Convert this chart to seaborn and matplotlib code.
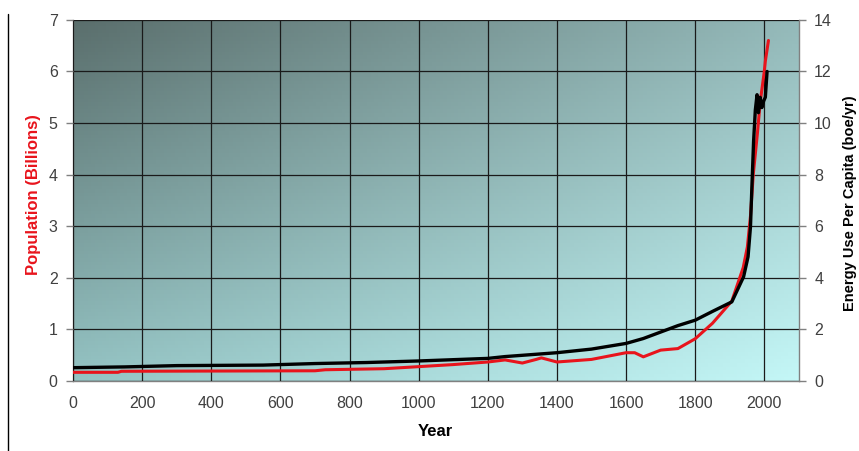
import numpy as np
import pandas as pd
import seaborn as sns
import matplotlib.pyplot as plt
from matplotlib.lines import Line2D

# population (billions)
pop_years = [0, 130, 140, 700, 730, 900, 1000, 1100, 1200, 1250, 1300, 1340, 1355,
             1400, 1500, 1600, 1625, 1650, 1700, 1750, 1800, 1850, 1906, 1939,
             1951, 1960, 1968, 1980, 1988, 2000, 2003, 2012]
pop_vals = [0.17, 0.17, 0.19, 0.20, 0.22, 0.24, 0.28, 0.32, 0.37, 0.41, 0.35, 0.42, 0.45,
            0.37, 0.42, 0.55, 0.55, 0.47, 0.60, 0.63, 0.82, 1.12, 1.55, 2.2,
            2.6, 3.2, 4.0, 4.8, 5.4, 6.0, 6.2, 6.6]

# energy use per capita (boe/yr)
energy_years = [0, 150, 300, 550, 700, 850, 1000, 1200, 1250, 1400, 1500, 1600, 1650,
                1700, 1750, 1800, 1850, 1906, 1940, 1953, 1960, 1964, 1969, 1974,
                1979, 1983, 1988, 1993, 1998, 2003, 2008]
energy_vals = [0.52, 0.55, 0.60, 0.62, 0.68, 0.72, 0.78, 0.88, 0.95, 1.10, 1.24, 1.46, 1.65,
               1.90, 2.15, 2.36, 2.70, 3.07, 4.04, 4.82, 5.98, 7.5, 9.3, 10.5,
               11.1, 10.4, 11.0, 10.6, 10.85, 11.0, 12.0]

x_ticks = list(range(0, 2001, 200))
left_ticks = list(range(0, 8))
right_ticks = list(range(0, 15, 2))

pop = pd.DataFrame({"Year": pop_years, "Population": pop_vals})
energy = pd.DataFrame({"Year": energy_years, "Energy": energy_vals})

sns.set_style("white")
plt.rcParams["font.family"] = ["Liberation Sans", "DejaVu Sans"]

fig = plt.figure(figsize=(8.59, 4.51), dpi=100)
ax = fig.add_axes([0.085, 0.155, 0.845, 0.801])

# diagonal gradient background
nx, ny = 200, 100
u = np.linspace(0, 1, nx)[None, :]
v = np.linspace(0, 1, ny)[:, None]  # 0 = top
tl = np.array([90, 110, 108]) / 255
tr = np.array([148, 185, 185]) / 255
bl = np.array([148, 195, 195]) / 255
br = np.array([196, 247, 247]) / 255
img = ((1 - u) * (1 - v))[..., None] * tl + (u * (1 - v))[..., None] * tr \
    + ((1 - u) * v)[..., None] * bl + (u * v)[..., None] * br
ax.imshow(img, extent=(0, 2100, 0, 7), aspect="auto", origin="upper", zorder=0)

ax2 = ax.twinx()
ax2.patch.set_visible(False)

sns.lineplot(data=pop, x="Year", y="Population", ax=ax, color="#e8141c", lw=2.2, zorder=4)
sns.lineplot(data=energy, x="Year", y="Energy", ax=ax2, color="black", lw=2.4, zorder=3)

ax.set_xlim(0, 2100)
ax.set_ylim(0, 7)
ax2.set_ylim(0, 14)
ax.set_xticks(x_ticks)
ax.set_yticks(left_ticks)
ax2.set_yticks(right_ticks)

for a in (ax, ax2):
    for s in a.spines.values():
        s.set_visible(False)
ax.spines["left"].set_visible(True)
ax.spines["bottom"].set_visible(True)
ax2.spines["right"].set_visible(True)
for s in (ax.spines["left"], ax.spines["bottom"], ax2.spines["right"]):
    s.set_color("#808080")
    s.set_linewidth(1)

ax.grid(True, color="#1a1a1a", lw=0.9, zorder=1)
ax.set_axisbelow(False)
ax.tick_params(axis="both", direction="out", length=5, width=1, color="#808080",
               labelsize=11.5, labelcolor="#404040", pad=6)
ax2.tick_params(axis="y", direction="out", length=5, width=1, color="#808080",
                labelsize=11.5, labelcolor="#404040", pad=6)

ax.set_xlabel("Year", fontsize=12, fontweight="bold", color="black")
ax.xaxis.set_label_coords((435 - 73) / 726, -(424 - 381) / 361)
ax.set_ylabel("Population (Billions)", fontsize=12, fontweight="bold", color="#e8141c")
ax.yaxis.set_label_coords(-(73 - 41) / 726, (381 - 195) / 361)
ax2.set_ylabel("Energy Use Per Capita (boe/yr)", fontsize=10.5, fontweight="bold", color="black")
ax2.yaxis.set_label_coords(1 + (843 - 799) / 726, (381 - 203) / 361)

fig.add_artist(Line2D([8 / 859, 8 / 859], [0, 1 - 14 / 451], transform=fig.transFigure,
                      color="black", lw=1))

fig.savefig("out.png", dpi=100)
